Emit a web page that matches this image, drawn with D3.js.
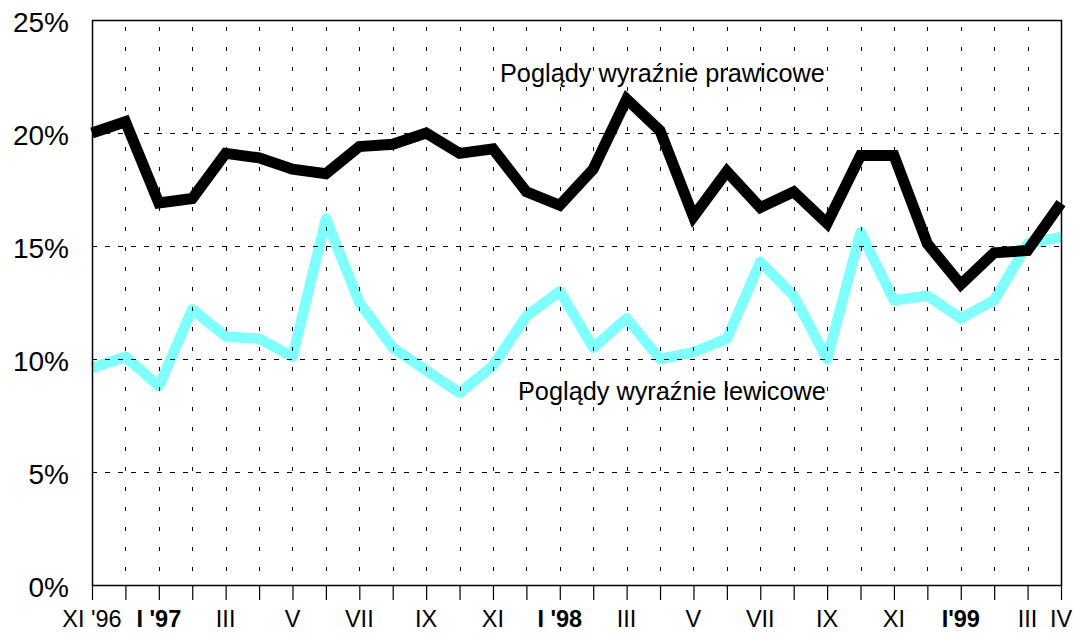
<!DOCTYPE html>
<html>
<head>
<meta charset="utf-8">
<script src="https://cdn.jsdelivr.net/npm/d3@7"></script>
<style>
  body { margin: 0; background: #fff; }
  svg { font-family: "Liberation Sans", Arial, sans-serif; }
</style>
</head>
<body>
<div id="chart"></div>
<script>
// months from XI '96 to IV '99
const months = ["XI '96","XII","I '97","II","III","IV","V","VI","VII","VIII","IX","X",
  "XI","XII","I '98","II","III","IV","V","VI","VII","VIII","IX","X",
  "XI","XII","I'99","II","III","IV"];

const prawicowe = [20.0, 20.5, 16.9, 17.1, 19.1, 18.9, 18.4, 18.2, 19.4, 19.5,
  20.0, 19.1, 19.3, 17.4, 16.8, 18.4, 21.5, 20.1, 16.3, 18.3,
  16.7, 17.4, 16.0, 19.0, 19.0, 15.1, 13.3, 14.7, 14.8, 16.9];

const lewicowe = [9.6, 10.1, 8.8, 12.2, 11.0, 10.9, 10.1, 16.2, 12.5, 10.5,
  9.5, 8.5, 9.7, 11.9, 13.0, 10.5, 11.8, 10.0, 10.3, 10.9,
  14.3, 12.8, 10.0, 15.6, 12.6, 12.8, 11.8, 12.6, 15.1, 15.4];

// which months get a label, and which of them are bold
const labelIdx = [0, 2, 4, 6, 8, 10, 12, 14, 16, 18, 20, 22, 24, 26, 28, 29];
const boldIdx = [2, 14, 26];
const yTicks = [0, 5, 10, 15, 20, 25];

const w = 1074, h = 634;
const pLeft = 92, pRight = 1061, pTop = 20, pBottom = 585;

const svg = d3.select("#chart").append("svg")
  .attr("width", w)
  .attr("height", h);

const x = d3.scaleLinear().domain([0, months.length - 1]).range([pLeft, pRight]);
const y = d3.scaleLinear().domain([0, 25]).range([pBottom, pTop]);

const line = d3.line()
  .x((d, i) => x(i))
  .y(d => y(d));

// series
svg.append("path")
  .datum(lewicowe)
  .attr("fill", "none")
  .attr("stroke", "#80ffff")
  .attr("stroke-width", 10.5)
  .attr("stroke-linejoin", "round")
  .attr("d", line);

svg.append("path")
  .datum(prawicowe)
  .attr("fill", "none")
  .attr("stroke", "#000")
  .attr("stroke-width", 11)
  .attr("stroke-linejoin", "miter")
  .attr("d", line);

// grid on top of the lines
const grid = svg.append("g").attr("stroke", "#000").attr("stroke-width", 1);
grid.selectAll(".vgrid")
  .data(d3.range(1, months.length - 1))
  .enter().append("line")
  .attr("class", "vgrid")
  .attr("x1", d => Math.round(x(d)) + 0.5)
  .attr("x2", d => Math.round(x(d)) + 0.5)
  .attr("y1", pBottom)
  .attr("y2", pTop)
  .attr("stroke-dasharray", "4,16")
  .attr("stroke-dashoffset", 6);

grid.selectAll(".hgrid")
  .data([5, 10, 15, 20])
  .enter().append("line")
  .attr("class", "hgrid")
  .attr("x1", pLeft)
  .attr("x2", pRight)
  .attr("y1", d => Math.round(y(d)) + 0.5)
  .attr("y2", d => Math.round(y(d)) + 0.5)
  .attr("stroke-dasharray", "5,8");

// frame
svg.append("rect")
  .attr("x", pLeft + 0.5)
  .attr("y", pTop + 0.5)
  .attr("width", pRight - pLeft)
  .attr("height", pBottom - pTop)
  .attr("fill", "none")
  .attr("stroke", "#000")
  .attr("stroke-width", 1.5);

// x axis
const xAxis = d3.axisBottom(x)
  .tickValues(d3.range(0, months.length))
  .tickSize(15)
  .tickFormat("");

svg.append("g")
  .attr("transform", `translate(0, ${pBottom})`)
  .call(xAxis)
  .call(g => g.select(".domain").remove())
  .call(g => g.selectAll("line").attr("stroke", "#000").attr("stroke-width", 1.2));

svg.append("g")
  .selectAll("text")
  .data(labelIdx)
  .enter().append("text")
  .attr("x", d => x(d))
  .attr("y", 627)
  .attr("text-anchor", "middle")
  .attr("font-size", "23.5px")
  .attr("font-weight", d => boldIdx.includes(d) ? "bold" : "normal")
  .attr("fill", "#000")
  .text(d => months[d]);

// y axis labels
svg.append("g")
  .selectAll("text")
  .data(yTicks)
  .enter().append("text")
  .attr("x", 69)
  .attr("y", d => y(d) + 12)
  .attr("text-anchor", "end")
  .attr("font-size", "28px")
  .attr("fill", "#000")
  .text(d => d + "%");

// series labels
svg.append("text")
  .attr("x", 500)
  .attr("y", 82)
  .attr("font-size", "25.3px")
  .attr("fill", "#000")
  .text("Poglądy wyraźnie prawicowe");

svg.append("text")
  .attr("x", 518)
  .attr("y", 400)
  .attr("font-size", "25.3px")
  .attr("fill", "#000")
  .text("Poglądy wyraźnie lewicowe");
</script>
</body>
</html>
